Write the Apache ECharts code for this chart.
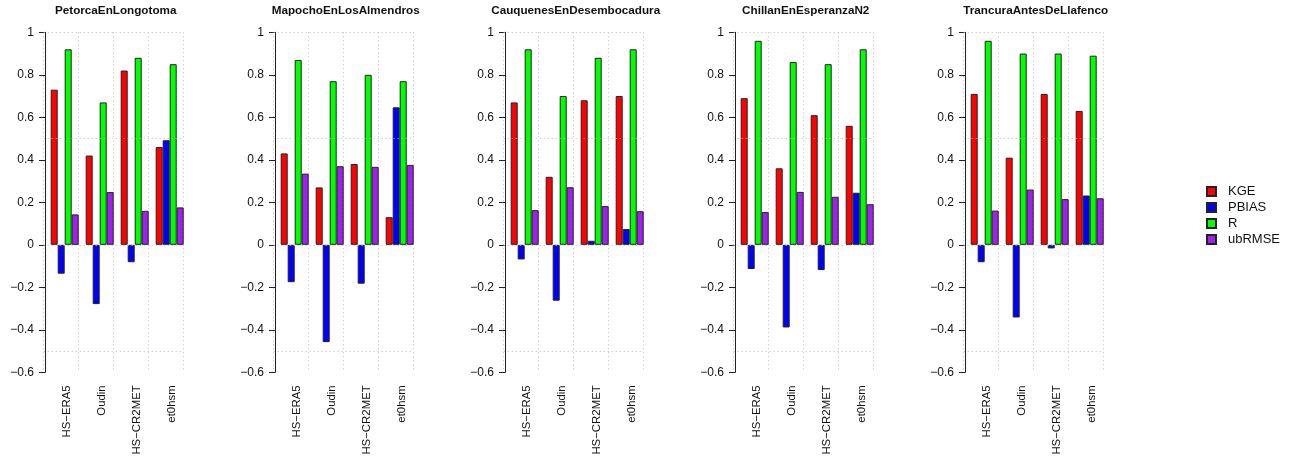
<!DOCTYPE html>
<html>
<head>
<meta charset="utf-8">
<script src="https://cdn.jsdelivr.net/npm/echarts@6/dist/echarts.min.js"></script>
<style>
html,body{margin:0;padding:0;background:#fff;}
#c{width:1293px;height:459px;}
</style>
</head>
<body>
<div id="c"></div>
<script>
const stations = ["PetorcaEnLongotoma","MapochoEnLosAlmendros","CauquenesEnDesembocadura","ChillanEnEsperanzaN2","TrancuraAntesDeLlafenco"];
const categories = ["HS\u2212ERA5","Oudin","HS\u2212CR2MET","et0hsm"];
const metrics = ["KGE","PBIAS","R","ubRMSE"];
const colors = ["#FF0000","#0000FF","#00FF00","#A020F0"];
const yTicks = {min:-0.6, max:1, interval:0.2};
const gridLevels = [1, 0.5, 0, -0.5];

// values per station, in category order
const kge    = [[0.73,0.42,0.82,0.46],[0.43,0.27,0.38,0.13],[0.67,0.32,0.68,0.70],[0.69,0.36,0.61,0.56],[0.71,0.41,0.71,0.63]];
const pbias  = [[-0.136,-0.279,-0.082,0.492],[-0.176,-0.458,-0.183,0.647],[-0.069,-0.263,0.019,0.074],[-0.114,-0.389,-0.119,0.245],[-0.082,-0.342,-0.017,0.232]];
const rcorr  = [[0.92,0.67,0.88,0.85],[0.87,0.77,0.80,0.77],[0.92,0.70,0.88,0.92],[0.96,0.86,0.85,0.92],[0.96,0.90,0.90,0.89]];
const ubrmse = [[0.143,0.248,0.160,0.176],[0.335,0.370,0.367,0.376],[0.163,0.271,0.182,0.158],[0.154,0.249,0.226,0.191],[0.161,0.260,0.215,0.219]];
const values = [kge, pbias, rcorr, ubrmse];

const FONT = '"Liberation Sans", Arial, sans-serif';
const chart = echarts.init(document.getElementById('c'), null, {renderer:'canvas'});

const grids=[], xAxes=[], yAxes=[], series=[], titles=[];
const panelStep = 230, left0 = 43.7, gw = 140, gtop = 32.3, gh = 340;
const dotted = {type:[1,3], color:'#bdbdbd', width:1};

stations.forEach((st, i) => {
  const L = left0 + panelStep*i;
  grids.push({left:L, top:gtop, width:gw, height:gh, containLabel:false});
  titles.push({text:st, left:L + gw/2 + 2, top:5, padding:0, textAlign:'center',
    textStyle:{fontFamily:FONT, fontSize:11.7, fontWeight:'bold', color:'#111'}});
  xAxes.push({type:'category', gridIndex:i, data:categories, boundaryGap:true,
    axisLine:{show:false}, axisTick:{show:false},
    axisLabel:{rotate:90, margin:13, fontFamily:FONT, fontSize:11.4, color:'#111',
      verticalAlign:'top', lineHeight:11, interval:0},
    splitLine:{show:true, lineStyle:dotted}});
  yAxes.push({type:'value', gridIndex:i, min:yTicks.min, max:yTicks.max, interval:yTicks.interval, offset:-1.3,
    axisLine:{show:true, onZero:false, lineStyle:{color:'#222', width:1}},
    axisTick:{show:true, length:6, lineStyle:{color:'#222'}},
    axisLabel:{margin:11, fontFamily:FONT, fontSize:12, color:'#111',
      formatter: v => { const r = Math.round(v*10)/10; return (r<0? '\u2212'+String(-r) : String(r)); }},
    splitLine:{show:false}});
  // spacer slot (R barplot space before each group)
  series.push({type:'bar', name:'_gap', xAxisIndex:i, yAxisIndex:i, data:categories.map(()=>null),
    barGap:'0%', barCategoryGap:'0%', silent:true, animation:false,
    markLine:{silent:true, symbol:'none', animation:false, label:{show:false},
      lineStyle:dotted,
      data: gridLevels.map(g=>({yAxis:g}))}});
  metrics.forEach((m, k) => {
    series.push({type:'bar', name:m, xAxisIndex:i, yAxisIndex:i, data:values[k][i],
      barGap:'0%', barCategoryGap:'0%', animation:false,
      itemStyle:{color:colors[k], borderColor:'#222', borderWidth:1}});
  });
});

chart.setOption({
  backgroundColor:'#fff',
  animation:false,
  title:titles,
  grid:grids,
  xAxis:xAxes,
  yAxis:yAxes,
  legend:{data:metrics, orient:'vertical', left:1206, top:185, padding:0, itemGap:3,
    itemWidth:9, itemHeight:9, icon:'rect', selectedMode:false,
    textStyle:{fontFamily:FONT, fontSize:13, color:'#111', lineHeight:13, padding:[0,0,0,7]}},
  series:series
});
</script>
</body>
</html>
